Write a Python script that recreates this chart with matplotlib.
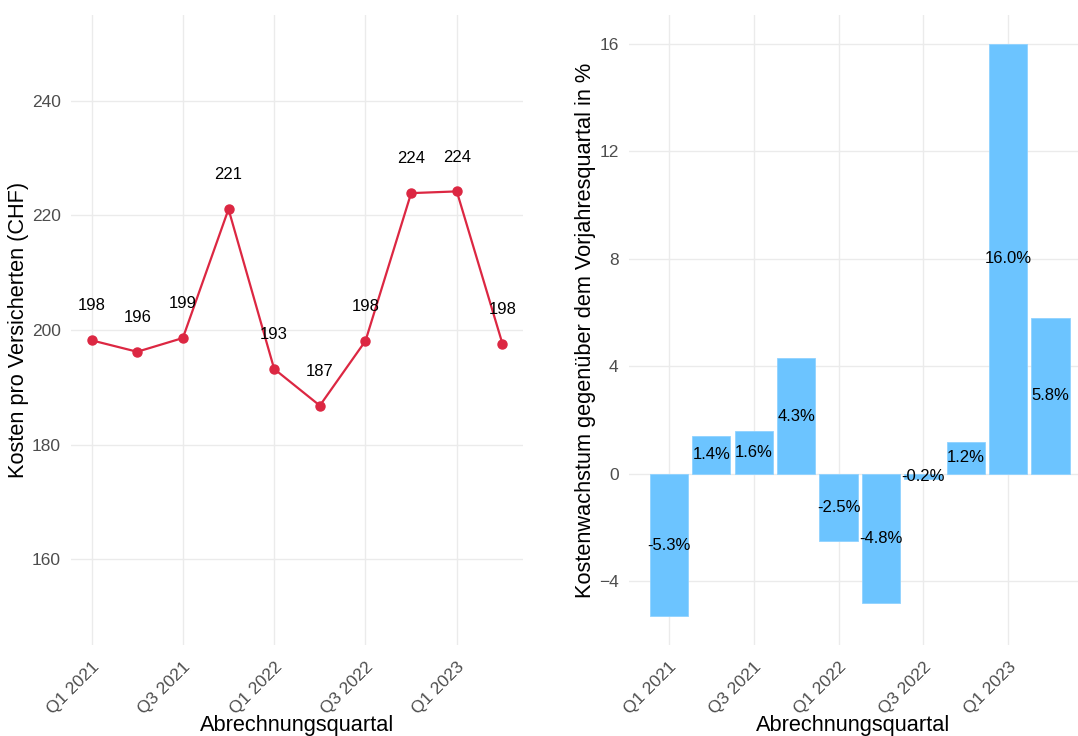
import matplotlib
matplotlib.use("Agg")
import matplotlib.pyplot as plt
import numpy as np

plt.rcParams["font.family"] = ["Liberation Sans", "DejaVu Sans"]

# --- Data ---
quarters = ["Q1 2021", "Q2 2021", "Q3 2021", "Q4 2021", "Q1 2022",
            "Q2 2022", "Q3 2022", "Q4 2022", "Q1 2023", "Q2 2023"]
kosten = [198.2, 196.2, 198.6, 221.1, 193.2, 186.8, 198.1, 223.9, 224.2, 197.6]
kosten_labels = ["198", "196", "199", "221", "193", "187", "198", "224", "224", "198"]
wachstum = [-5.3, 1.4, 1.6, 4.3, -2.5, -4.8, -0.2, 1.2, 16.0, 5.8]

tick_quarters = ["Q1 2021", "Q3 2021", "Q1 2022", "Q3 2022", "Q1 2023"]

LINE_COLOR = "#DC2742"
BAR_COLOR = "#6CC4FF"
GRID = "#EBEBEB"
TICK_COL = "#4D4D4D"

W, H = 1078, 736
fig = plt.figure(figsize=(W / 100, H / 100), dpi=100)


def px_axes(x0, y0, x1, y1):
    """Axes from pixel box (top-left origin)."""
    return fig.add_axes([x0 / W, (H - y1) / H, (x1 - x0) / W, (y1 - y0) / H])


def style(ax):
    for s in ax.spines.values():
        s.set_visible(False)
    ax.grid(True, color=GRID, linewidth=1.0)
    ax.set_axisbelow(True)
    ax.tick_params(length=0, labelsize=12.5, labelcolor=TICK_COL)
    ax.tick_params(axis="y", pad=7.5)
    ax.tick_params(axis="x", pad=10)


x = np.arange(len(quarters))
tick_pos = [quarters.index(q) for q in tick_quarters]

# --- Left: cost per insured ---
ax1 = px_axes(71, 15, 523, 645)
style(ax1)
ax1.plot(x, kosten, color=LINE_COLOR, linewidth=1.6, marker="o",
         markersize=6.5, zorder=3)
for xi, yi, lab in zip(x, kosten, kosten_labels):
    ax1.text(xi, yi + 6, lab, ha="center", va="center", fontsize=12, color="black")
ax1.set_xlim(-0.45, 9.45)
ax1.set_ylim(145, 255)
ax1.set_yticks([160, 180, 200, 220, 240])
ax1.set_xticks(tick_pos)
ax1.set_xticklabels(tick_quarters, rotation=45, ha="right", va="top",
                    rotation_mode="anchor")
ax1.set_xlabel("Abrechnungsquartal", fontsize=15.7, labelpad=-1)
ax1.set_ylabel("Kosten pro Versicherten (CHF)", fontsize=15.7, labelpad=2)

# --- Right: year-over-year growth ---
ax2 = px_axes(629, 15, 1078, 645)
style(ax2)
ax2.bar(x, wachstum, width=0.9, color=BAR_COLOR, edgecolor="#8FD2FF",
        linewidth=0.6, zorder=2)
for xi, v in zip(x, wachstum):
    ax2.text(xi, v / 2, f"{v:.1f}%", ha="center", va="center",
             fontsize=12, color="black", zorder=4)
ax2.set_xlim(-0.945, 9.65)
ax2.set_ylim(-6.37, 17.07)
ax2.set_yticks([-4, 0, 4, 8, 12, 16])
ax2.set_xticks(tick_pos)
ax2.set_xticklabels(tick_quarters, rotation=45, ha="right", va="top",
                    rotation_mode="anchor")
ax2.set_xlabel("Abrechnungsquartal", fontsize=15.7, labelpad=-1)
ax2.set_ylabel("Kostenwachstum gegenüber dem Vorjahresquartal in %",
               fontsize=15.7, labelpad=2)

fig.savefig("out.png", dpi=100, facecolor="white")
